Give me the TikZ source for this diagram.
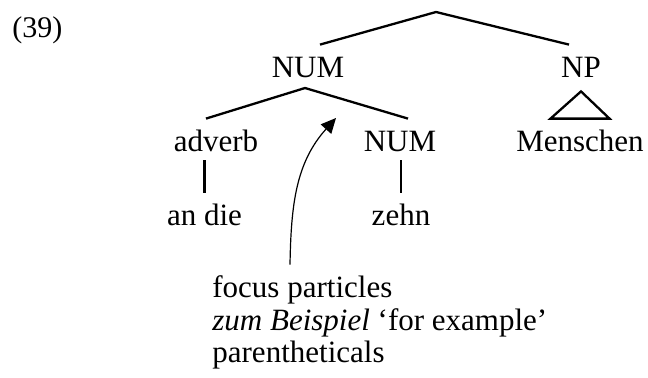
\documentclass[tikz,border=0pt]{standalone}
\usepackage{fontspec}
\setmainfont{Liberation Serif}
\usepackage{tikz}
\usetikzlibrary{arrows.meta, calc, positioning}

\begin{document}
\begin{tikzpicture}[x=0.5pt, y=0.5pt,
	cat/.style={inner sep=0pt, anchor=base, text height=16pt, text depth=4.5pt, font=\fontsize{15.5}{16}\selectfont},
	gloss/.style={inner sep=0pt, anchor=base west, text height=16pt, text depth=4.5pt, font=\fontsize{15.5}{16}\selectfont},
	branch/.style={line width=1.15pt}]
	\useasboundingbox (0,0) rectangle (648,377);
	\node[anchor=base west, inner sep=0pt, font=\fontsize{15}{16}\selectfont] (ex) at (12,340) {(39)};
	
	% nodes of the tree
	\coordinate (root) at (436,365);
	\node[cat] (numA) at (308,300) {NUM};
	\node[cat] (np) at (581,300) {NP};
	\coordinate (apexB) at (305,289);
	\node[cat] (adverb) at (216,226) {adverb};
	\node[cat] (numB) at (400,226) {NUM};
	\node[cat] (menschen) at (580,226) {Menschen};
	\node[cat] (andie) at (204.5,152) {an die};
	\node[cat] (zehn) at (401,152) {zehn};
	
	\draw[branch] ([xshift=6pt]numA.north) -- (root) -- ([xshift=-6pt]np.north);
	\draw[branch] ([xshift=-5pt]adverb.north) -- (apexB) -- ([xshift=4pt]numB.north);
	\draw[branch] ([yshift=-2.5pt]np.south) -- ([xshift=-14.75pt]menschen.north) -- ([xshift=14.75pt]menschen.north) -- cycle;
	\draw[branch] (andie.north) -- (andie.north |- adverb.south);
	\draw[branch] (zehn.north) -- (zehn.north |- numB.south);
	
	% the particles and the arrow
	\node[gloss] (fp1) at (212,80) {focus particles};
	\node[gloss] (fp2) at (212,47) {\textit{zum Beispiel} ‘for example’};
	\node[gloss] (fp3) at (212,15) {parentheticals};
	\coordinate (tip) at (336,259);
	\draw[-{Triangle[length=7.5pt, width=7pt]}, line width=0.6pt] ([xshift=39pt]fp1.north west) to[out=89, in=228] (tip);
\end{tikzpicture}
\end{document}
